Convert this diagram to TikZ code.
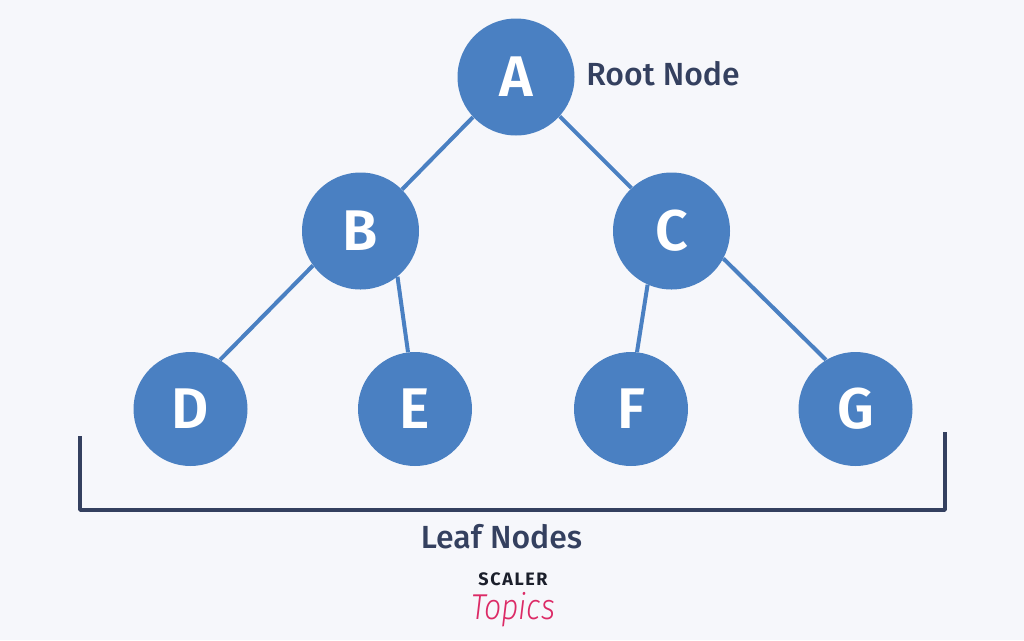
\documentclass[tikz,border=0pt]{standalone}
\usepackage{fontspec}
\setmainfont{Fira Sans}
\newfontfamily\semifont{Fira Sans SemiBold}
\newfontfamily\medfont{Fira Sans Medium}
\newfontfamily\topicsfont{Fira Sans Light Italic}
\definecolor{bgc}{HTML}{F6F7FB}
\definecolor{nodeblue}{HTML}{4A80C2}
\definecolor{navy}{HTML}{34405F}
\definecolor{pinkc}{HTML}{DC2A66}
\definecolor{logoink}{HTML}{1B1F2B}
\tikzset{
  treenode/.style={circle,fill=nodeblue,inner sep=0pt,text=white,font=\fontsize{43}{43}\selectfont\semifont},
  big/.style={treenode,minimum size=87.75pt},
  small/.style={treenode,minimum size=85.5pt},
  edge/.style={draw=nodeblue,line width=3pt},
  lbl/.style={text=navy,inner sep=0pt,font=\fontsize{24}{24}\selectfont\medfont},
  bracket/.style={draw=navy,line width=2.6pt,line join=round}
}
\begin{document}
\begin{tikzpicture}[x=0.75pt,y=-0.75pt]
\path[fill=bgc] (0,0) rectangle (1024,640);
\useasboundingbox (0,0) rectangle (1024,640);
\node[big] (A) at (516,77) {A};
\node[big] (B) at (360.5,231) {B};
\node[big] (C) at (671.5,231) {C};
\node[small] (D) at (190.5,409) {D};
\node[small] (E) at (415,409) {E};
\node[small] (F) at (631,409) {F};
\node[small] (G) at (855.5,409) {G};
\draw[edge] (A.223) -- (B.45);
\draw[edge] (A.-42) -- (C.133);
\draw[edge] (B.216) -- (D.59);
\draw[edge] (B.-51) -- (E.97);
\draw[edge] (C.246) -- (F.84);
\draw[edge] (C.-28) -- (G.121);
\node[lbl] (root) at (663,74) {Root Node};
\node[lbl] (leaf) at (501.5,537) {Leaf Nodes};
\coordinate (bl) at (80,436);
\coordinate (blc) at (80,510);
\coordinate (brc) at (945,510);
\coordinate (br) at (945,432);
\draw[bracket] (bl) -- (blc) -- (brc) -- (br);
\node[inner sep=0pt,text=logoink,font=\fontsize{13.5}{13.5}\selectfont\bfseries] (scaler) at (513,579) {S\kern1.2pt C\kern1.2pt A\kern1.2pt L\kern1.2pt E\kern1.2pt R};
\node[inner sep=0pt,text=pinkc,font=\fontsize{27}{27}\selectfont\topicsfont,xscale=0.84] (topics) at (513,610) {Topics};
\end{tikzpicture}
\end{document}
